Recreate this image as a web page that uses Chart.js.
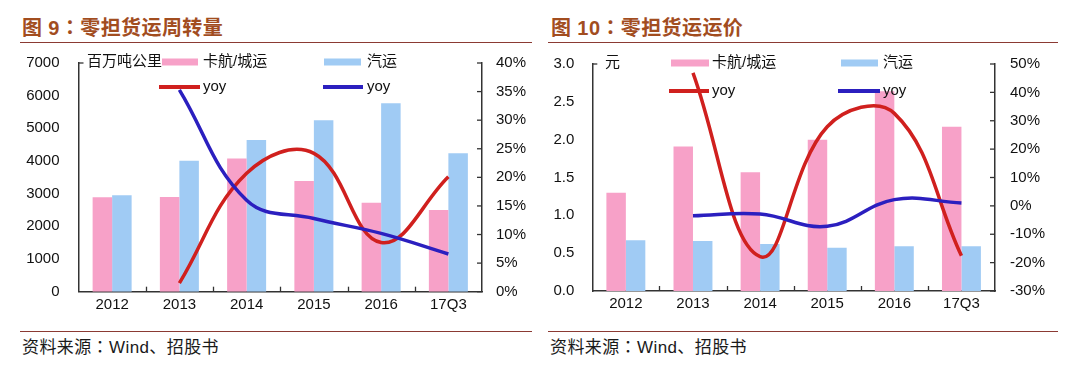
<!DOCTYPE html>
<html><head><meta charset="utf-8">
<script src="https://cdn.jsdelivr.net/npm/chart.js"></script>
<style>
html,body{margin:0;padding:0;background:#fff;width:1080px;height:369px;overflow:hidden;}
body{position:relative;}
.title{position:absolute;top:16px;font:bold 20px "Liberation Sans","Noto Sans CJK SC",sans-serif;color:#a24d1f;line-height:22px;white-space:nowrap;letter-spacing:0.4px;}
.rule{position:absolute;height:0;border-top:1.5px solid #8b3a33;}
.src{position:absolute;top:336px;font:17px "Liberation Sans","Noto Sans CJK SC",sans-serif;color:#1a1a1a;line-height:20px;white-space:nowrap;letter-spacing:0.4px;}
.col{font-family:"Noto Sans CJK TC","Noto Sans CJK SC",sans-serif;}
.wrap{position:absolute;top:0;width:540px;height:369px;}
canvas{display:block;}
</style></head>
<body>
<div class="title" style="left:22px">图 9<span class="col">：</span>零担货运周转量</div>
<div class="rule" style="left:20px;width:512px;top:42px"></div>
<div class="rule" style="left:20px;width:512px;top:331px"></div>
<div class="src" style="left:22px">资料来源<span class="col">：</span>Wind、招股书</div>

<div class="title" style="left:551px">图 10<span class="col">：</span>零担货运运价</div>
<div class="rule" style="left:548px;width:510px;top:42px"></div>
<div class="rule" style="left:548px;width:510px;top:331px"></div>
<div class="src" style="left:550px">资料来源<span class="col">：</span>Wind、招股书</div>

<div class="wrap" style="left:0"><canvas id="c1" width="540" height="369"></canvas></div>
<div class="wrap" style="left:540px"><canvas id="c2" width="540" height="369"></canvas></div>

<script>
// ---- data ----
const categories = ['2012', '2013', '2014', '2015', '2016', '17Q3'];
// 图9 零担货运周转量 (百万吨公里)
const volTruck = [2890, 2900, 4080, 3390, 2720, 2500];     // 卡航/城运
const volRoad = [2950, 4010, 4640, 5250, 5770, 4240];      // 汽运
const volTruckYoy = [null, 1.5, 20.7, 24.2, 8.6, 20.1];    // %
const volRoadYoy = [null, 35.3, 16.0, 12.8, 10.2, 6.6];    // %
// 图10 零担货运运价 (元)
const priceTruck = [1.30, 1.91, 1.57, 2.00, 2.64, 2.17];
const priceRoad = [0.67, 0.66, 0.62, 0.57, 0.59, 0.59];
const priceTruckYoy = [null, 46.9, -17.9, 27.9, 32.6, -17.6];
const priceRoadYoy = [null, -3.5, -2.9, -7.2, 2.2, 1.0];
const seriesNames = ['卡航/城运', '汽运', 'yoy', 'yoy'];

const PINK = '#f7a1c8', LBLUE = '#a0cbf4', RED = '#d0201e', DBLUE = '#2b1fbf';
const AXIS = '#333333';

Chart.defaults.font.family = '"Liberation Sans","Noto Sans CJK SC",sans-serif';
Chart.defaults.font.size = 15;
Chart.defaults.color = '#111';

const decor = {
  id: 'decor',
  afterDatasetsDraw(chart, args, o) {
    const ctx = chart.ctx, a = chart.chartArea;
    const seg = (x1, y1, x2, y2) => { ctx.beginPath(); ctx.moveTo(x1, y1); ctx.lineTo(x2, y2); ctx.stroke(); };
    ctx.save();
    ctx.strokeStyle = AXIS; ctx.lineWidth = 1.3;
    const xs = chart.scales.x;
    for (let i = 0; i < xs.ticks.length - 1; i++) {
      const bx = Math.round((xs.getPixelForTick(i) + xs.getPixelForTick(i + 1)) / 2) + 0.5;
      seg(bx, a.bottom, bx, a.bottom - 5);
    }
    const y1 = chart.scales.y1;
    y1.ticks.forEach((t, i) => { const py = y1.getPixelForTick(i); seg(a.right - 5, py, a.right, py); });
    seg(a.left, a.top, a.left + 5, a.top);
    // unit label
    ctx.fillStyle = '#111';
    ctx.font = '15px "Liberation Sans","Noto Sans CJK SC",sans-serif';
    ctx.textBaseline = 'middle'; ctx.textAlign = 'left';
    ctx.fillText(o.unit, o.unitX, o.row1);
    // legend
    const ds = chart.data.datasets;
    const bars = [ds[2], ds[3]], lines = [ds[1], ds[0]];
    bars.forEach((d, i) => {
      const c = o.cols[i];
      ctx.fillStyle = d.backgroundColor;
      ctx.fillRect(c[0], o.row1 - 3.5, c[1] - c[0], 7);
      ctx.fillStyle = '#111';
      ctx.fillText(d.label, c[2], o.row1);
    });
    lines.forEach((d, i) => {
      const c = o.lcols[i];
      ctx.strokeStyle = d.borderColor; ctx.lineWidth = 4;
      seg(c[0], o.row2, c[1], o.row2);
      ctx.fillStyle = '#111';
      ctx.fillText(d.label, c[2], o.row2);
    });
    ctx.restore();
  }
};

function makeChart(id, bars1, bars2, yoy1, yoy2, cfg) {
  return new Chart(document.getElementById(id), {
    type: 'bar',
    data: {
      labels: categories,
      datasets: [
        { type: 'line', label: seriesNames[3], data: yoy2, yAxisID: 'y1', borderColor: DBLUE, borderWidth: 3.5, pointRadius: 0, tension: 0.4, fill: false },
        { type: 'line', label: seriesNames[2], data: yoy1, yAxisID: 'y1', borderColor: RED, borderWidth: 3.5, pointRadius: 0, tension: 0.4, fill: false },
        { label: seriesNames[0], data: bars1, yAxisID: 'y', backgroundColor: PINK, borderWidth: 0, categoryPercentage: 0.58, barPercentage: 1.0 },
        { label: seriesNames[1], data: bars2, yAxisID: 'y', backgroundColor: LBLUE, borderWidth: 0, categoryPercentage: 0.58, barPercentage: 1.0 }
      ]
    },
    options: {
      responsive: false, animation: false, devicePixelRatio: 1,
      layout: { padding: { top: cfg.top, bottom: 0, left: 0, right: 0 } },
      plugins: { legend: { display: false }, tooltip: { enabled: false }, decor: cfg.decor },
      scales: {
        x: {
          grid: { display: false, drawTicks: false },
          border: { display: true, color: AXIS, width: 1.5 },
          ticks: { padding: 4, color: '#111', font: { size: 15 } },
          afterFit: s => { s.height = cfg.xh; }
        },
        y: {
          position: 'left', min: cfg.yMin, max: cfg.yMax,
          grid: { display: false, drawTicks: false },
          border: { display: true, color: AXIS, width: 1.5 },
          ticks: { stepSize: cfg.yStep, padding: cfg.yPad, color: '#111', callback: cfg.yFmt },
          afterFit: s => { s.width = cfg.yw; }
        },
        y1: {
          position: 'right', min: cfg.y1Min, max: cfg.y1Max,
          grid: { display: false, drawTicks: false },
          border: { display: true, color: AXIS, width: 1.5 },
          ticks: { stepSize: cfg.y1Step, padding: cfg.y1Pad, color: '#111', callback: v => v + '%' },
          afterFit: s => { s.width = cfg.y1w; }
        }
      }
    },
    plugins: [decor]
  });
}

makeChart('c1', volTruck, volRoad, volTruckYoy, volRoadYoy, {
  top: 63, xh: 369 - 291.7, yw: 78.5, y1w: 540 - 482,
  yMin: 0, yMax: 7000, yStep: 1000, yPad: 19, yFmt: v => v,
  y1Min: 0, y1Max: 40, y1Step: 5, y1Pad: 14,
  decor: { unit: '百万吨公里', unitX: 87, row1: 62, row2: 87,
    cols: [[162, 198, 203], [324, 361, 367]],
    lcols: [[159, 200, 203], [323, 363, 367]] }
});

makeChart('c2', priceTruck, priceRoad, priceTruckYoy, priceRoadYoy, {
  top: 64, xh: 369 - 291, yw: 52.3, y1w: 540 - 455,
  yMin: 0, yMax: 3.0, yStep: 0.5, yPad: 18, yFmt: v => Number(v).toFixed(1),
  y1Min: -30, y1Max: 50, y1Step: 10, y1Pad: 15,
  decor: { unit: '元', unitX: 65, row1: 63, row2: 91,
    cols: [[131, 169, 172], [301, 338, 343]],
    lcols: [[129, 169, 172], [298, 340, 343]] }
});
</script>
</body></html>
